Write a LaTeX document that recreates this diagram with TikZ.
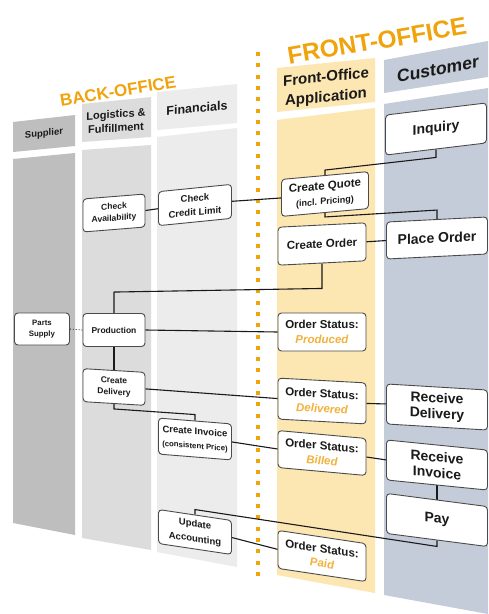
\documentclass[tikz,border=0pt]{standalone}
\usepackage{fontspec}
\setmainfont{Liberation Sans}
\usetikzlibrary{calc}

\definecolor{ink}{HTML}{1A1A1A}
\definecolor{boxline}{HTML}{4A4A4A}
\definecolor{orangeT}{HTML}{F0A30A}
\definecolor{orangeS}{HTML}{F2B23C}
\definecolor{suppgray}{HTML}{BEBEBE}
\definecolor{logigray}{HTML}{DCDCDC}
\definecolor{finagray}{HTML}{ECECEC}
\definecolor{frontyel}{HTML}{FCE6B2}
\definecolor{custblue}{HTML}{C5CCD9}

\newcommand\fsz[2]{\fontsize{#1}{#2}\selectfont}

\pgfdeclarelayer{lanes}
\pgfdeclarelayer{links}
\pgfsetlayers{lanes,links,main}

\begin{document}
\begin{tikzpicture}[x=1pt,y=-1pt,
  % place a node at (x,y) and shear it to follow the receding plane
  setat/.style n args={3}{shift={(#1,#2)},yslant=#3,transform shape},
  task/.style={draw=boxline, line width=0.9pt, fill=white, rounded corners=3.5pt,
    align=center, inner sep=0pt, text=ink},
  smalltask/.style={task, minimum width=62pt, minimum height=33pt, font=\fsz{8.5}{11.5}\bfseries},
  midtask/.style={task, minimum width=73pt, minimum height=34pt, font=\fsz{9.5}{14}\bfseries},
  fotask/.style={task, minimum width=88pt, minimum height=38pt, font=\fsz{11.5}{15}\bfseries},
  bigtask/.style={task, minimum width=101pt, minimum height=40pt, font=\fsz{14}{16}\bfseries},
  lanetext/.style={text=ink, align=center, inner sep=0pt},
  title/.style={text=orangeT, inner sep=0pt},
  link/.style={draw=ink, line width=1.1pt}
]
\clip (0,0) rectangle (488,614);

\begin{pgfonlayer}{lanes}
\fill[white] (0,0) rectangle (488,614);
% lanes: headers and bodies
\fill[suppgray] (13,122) -- (75,115) -- (75,146) -- (13,152) -- cycle;
\fill[suppgray] (13,159) -- (75,153) -- (75,535) -- (13,523) -- cycle;
\fill[logigray] (82,104) -- (151,97) -- (151,137) -- (82,142) -- cycle;
\fill[logigray] (82,150) -- (151,145) -- (151,550) -- (82,538) -- cycle;
\fill[finagray] (157,92) -- (237,84) -- (237,123) -- (157,130) -- cycle;
\fill[finagray] (157,137) -- (237,128) -- (237,567) -- (157,552) -- cycle;
\fill[frontyel] (277,68) -- (375,58) -- (375,102) -- (277,112) -- cycle;
\fill[frontyel] (277,120) -- (375,108) -- (375,593) -- (277,575) -- cycle;
\fill[custblue] (384,60) -- (488,41) -- (488,77) -- (384,93) -- cycle;
\fill[custblue] (384,104) -- (488,88) -- (488,614) -- (384,595) -- cycle;
% separator between back and front office
\coordinate (sepTop) at (258,52);
\coordinate (sepBot) at (258,576);
\draw[orangeT, line width=4pt, dash pattern=on 4pt off 7.3pt] (sepTop) -- (sepBot);
\end{pgfonlayer}

% lane headings
\node[lanetext, setat={44}{134}{0.12}, font=\fsz{9.5}{11}\bfseries] (hsup) at (0,0) {Supplier};
\node[lanetext, setat={116}{121}{0.07}, font=\fsz{11}{14}\bfseries] (hlog) at (0,0) {Logistics \&\\Fulfillment};
\node[lanetext, setat={197}{108}{0.1}, font=\fsz{12.5}{14}\bfseries] (hfin) at (0,0) {Financials};
\node[lanetext, setat={326}{88}{0.1}, font=\fsz{15}{20}\bfseries] (hfront) at (0,0) {Front-Office\\Application};
\node[lanetext, setat={438}{69}{0.18}, font=\fsz{17.5}{19}\bfseries] (hcust) at (0,0) {Customer};

% group titles
\node[title, rotate=9.3, font=\fsz{17}{17}\bfseries] (backoffice) at (118,91) {BACK-OFFICE};
\node[title, rotate=9.6, font=\fsz{24.5}{25}\bfseries] (frontoffice) at (377,41) {FRONT-OFFICE};

% tasks
\node[smalltask, setat={42}{329}{0}, minimum width=55pt, minimum height=32pt, font=\fsz{7.8}{11}\bfseries] (parts) at (0,0) {Parts\\Supply};
\node[smalltask, setat={114}{213}{0.08}] (avail) at (0,0) {Check\\Availability};
\node[smalltask, setat={114}{330}{0}] (prod) at (0,0) {Production};
\node[smalltask, setat={114}{387}{-0.06}] (cdel) at (0,0) {Create\\Delivery};

\node[midtask, setat={195}{205}{0.1}] (credit) at (0,0) {Check\\Credit Limit};
\node[midtask, setat={195}{439}{-0.08}, minimum height=36pt] (inv) at (0,0) {Create Invoice\\{\fsz{7.8}{9}(consistent Price)}};
\node[midtask, setat={195}{532}{-0.15}, font=\fsz{9.5}{15}\bfseries] (acct) at (0,0) {Update\\Accounting};

\node[fotask, setat={325}{194}{0.09}, minimum width=87pt, minimum height=37pt] (quote) at (0,0) {Create Quote\\{\fsz{9}{10}(incl. Pricing)}};
\node[fotask, setat={322}{244}{0.05}] (order) at (0,0) {Create Order};
\node[fotask, setat={322}{332}{0}] (sprod) at (0,0) {Order Status:\\{\color{orangeS}\itshape Produced}};
\node[fotask, setat={322}{401}{-0.055}, minimum height=41pt] (sdel) at (0,0) {Order Status:\\{\color{orangeS}\itshape Delivered}};
\node[fotask, setat={322}{453}{-0.09}, minimum height=37pt] (sbill) at (0,0) {Order Status:\\{\color{orangeS}\itshape Billed}};
\node[fotask, setat={322}{556}{-0.15}] (spaid) at (0,0) {Order Status:\\{\color{orangeS}\itshape Paid}};

\node[bigtask, setat={436}{129}{0.12}] (inq) at (0,0) {Inquiry};
\node[bigtask, setat={437}{238}{0.05}, minimum height=37pt] (place) at (0,0) {Place Order};
\node[bigtask, setat={437}{407}{-0.06}] (rdel) at (0,0) {Receive\\Delivery};
\node[bigtask, setat={437}{465}{-0.1}] (rinv) at (0,0) {Receive\\Invoice};
\node[bigtask, setat={437}{520}{-0.13}] (pay) at (0,0) {Pay};

% connectors, kept behind the boxes
\begin{pgfonlayer}{links}
\draw[ink, line width=0.9pt, dotted] (parts.east) -- (prod.west);
\draw[link] (avail.east) -- (credit.west);
\draw[link] (credit.east) -- (quote.west);
\draw[link] (quote.north) -- ($(quote.north)+(0,-5)$) -- ($(inq.south)+(0,8)$) -- (inq.south);
\draw[link] (quote.south) -- ($(quote.south)+(0,4)$) -- ($(place.north)+(0,-9)$) -- (place.north);
\draw[link] (order.east) -- (place.west);
\draw[link] (order.south) -- ($(order.south)+(0,25)$) -- ($(prod.north)+(0,-21)$) -- (prod.north);
\draw[link] (prod.east) -- (sprod.west);
\draw[link] (prod.south) -- (cdel.north);
\draw[link] (cdel.east) -- (sdel.west);
\draw[link] (sdel.east) -- (rdel.west);
\draw[link] (cdel.south) -- ($(cdel.south)+(0,5)$) -- ($(inv.north)+(0,-6)$) -- (inv.north);
\draw[link] (inv.east) -- (sbill.west);
\draw[link] (sbill.east) -- (rinv.west);
\draw[link] (rinv.south) -- (pay.north);
\draw[link] (acct.north) -- ($(acct.north)+(0,-5)$) -- ($(pay.south)+(0,6)$) -- (pay.south);
\draw[link] (acct.east) -- (spaid.west);
\end{pgfonlayer}
\end{tikzpicture}
\end{document}
